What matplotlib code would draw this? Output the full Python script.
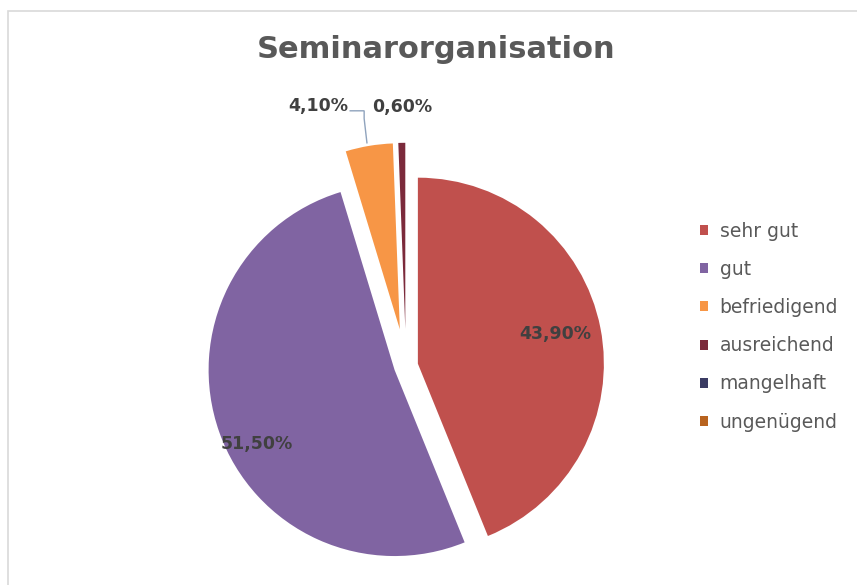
#pie chart: seminarorganisation rating shares (excel style look)
import matplotlib
matplotlib.use("Agg")
import matplotlib.pyplot as plt
from matplotlib.patches import Rectangle

categories = ["sehr gut", "gut", "befriedigend", "ausreichend", "mangelhaft", "ungenügend"]
shares = [43.9, 51.5, 4.1, 0.6, 0.0, 0.0]
value_labels = ["43,90%", "51,50%", "4,10%", "0,60%", "", ""]
colors = ["#C0504D", "#8064A2", "#F79646", "#7B2A3B", "#3A3B63", "#B8631F"]
explode = [0.065, 0.065, 0.2, 0.2, 0.0, 0.0]

# label spots in pie units (radius = 1)
label_pos = [(0.80, 0.17), (-0.80, -0.42), (-0.47, 1.40), (-0.02, 1.39)]

W, H = 857, 585
fig = plt.figure(figsize=(W / 100, H / 100), dpi=100)
fig.patch.set_facecolor("white")

#thin grey chart border, only top/left visible in the crop
fig.add_artist(Rectangle((8 / W, -0.1), 1.2, 1 - 11 / H + 0.1, transform=fig.transFigure,
                         fill=False, edgecolor="#d9d9d9", linewidth=1.2))

fig.text(436 / W, 1 - 50 / H, "Seminarorganisation", ha="center", va="center",
         fontsize=22, fontweight="bold", color="#595959", family="DejaVu Sans")

# pie axes: centre at (406, 366) px, radius 186 px
cx, cy, r = 406, 366, 186
span = 1.35
ax = fig.add_axes([(cx - span * r) / W, (H - cy - span * r) / H, 2 * span * r / W, 2 * span * r / H])
wedges, _ = ax.pie(shares, colors=colors, explode=explode, startangle=90, counterclock=False,
                   radius=1, wedgeprops=dict(linewidth=0))
ax.set_xlim(-span, span)
ax.set_ylim(-span, span)
ax.set_aspect("equal")
ax.axis("off")

for (x, y), txt in zip(label_pos, value_labels):
    ax.text(x, y, txt, ha="center", va="center", fontsize=12.5, fontweight="bold",
            color="#404040", family="DejaVu Sans")

#leader line for 4,10% (sits above the axes box, so no clipping)
ax.plot([-0.30, -0.225, -0.225, -0.21], [1.372, 1.372, 1.33, 1.20], color="#8fa3bd",
        linewidth=1.0, solid_joinstyle="miter", clip_on=False)

leg = fig.legend(wedges, categories, loc="upper left", bbox_to_anchor=(683 / W, 1 - 205 / H),
                 frameon=False, handlelength=0.45, handleheight=0.45, handletextpad=0.6,
                 labelspacing=1.02, prop=dict(family="DejaVu Sans", size=13.5))
for t in leg.get_texts():
    t.set_color("#595959")

fig.savefig("out.png", dpi=100)
